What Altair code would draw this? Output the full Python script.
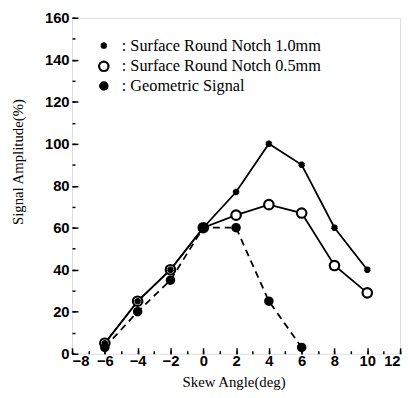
import altair as alt
import pandas as pd

# ---- data ----
series_names = ["Surface Round Notch 1.0mm", "Surface Round Notch 0.5mm", "Geometric Signal"]
angles_notch = [-6, -4, -2, 0, 2, 4, 6, 8, 10]
notch_10 = [5, 25, 40, 60, 77, 100, 90, 60, 40]
notch_05 = [5, 25, 40, 60, 66, 71, 67, 42, 29]
angles_geo = [-6, -4, -2, 0, 2, 4, 6]
geometric = [3, 20, 35, 60, 60, 25, 3]

x_ticks = [-8, -6, -4, -2, 0, 2, 4, 6, 8, 10, 12]
y_ticks = [0, 20, 40, 60, 80, 100, 120, 140, 160]
x_minor = list(range(-8, 13))
y_minor = list(range(0, 161, 10))

rows = []
for a, v in zip(angles_notch, notch_05):
    rows.append({"angle": a, "amp": v, "series": series_names[1]})
for a, v in zip(angles_notch, notch_10):
    rows.append({"angle": a, "amp": v, "series": series_names[0]})
for a, v in zip(angles_geo, geometric):
    rows.append({"angle": a, "amp": v, "series": series_names[2]})
df = pd.DataFrame(rows)

W, H = 333, 341
asterisk = "M0,-0.6L0,0.6M-0.52,-0.3L0.52,0.3M-0.52,0.3L0.52,-0.3"

xscale = alt.Scale(domain=[-8, 12], nice=False, zero=False)
yscale = alt.Scale(domain=[0, 160], nice=False)

base = alt.Chart(df)

x_label_axis = alt.Axis(values=x_ticks, ticks=False, domain=False, grid=False,
                        labelFont="Liberation Sans", labelFontWeight="bold",
                        labelFontSize=15, labelColor="black", labelPadding=0,
                        title="Skew Angle(deg)", titleFont="Liberation Serif",
                        titleFontWeight="normal", titleFontSize=15, titleColor="black",
                        titleX=164, titleY=28, titleBaseline="middle", titleAlign="center")
y_label_axis = alt.Axis(values=y_ticks, ticks=False, domain=False, grid=False,
                        labelFont="Liberation Sans", labelFontWeight="bold",
                        labelFontSize=15, labelColor="black", labelPadding=3,
                        title="Signal Amplitude(%)", titleFont="Liberation Serif",
                        titleFontWeight="normal", titleFontSize=15, titleColor="black",
                        titleX=-55, titleY=146, titleAngle=-90,
                        titleBaseline="middle", titleAlign="center")

solid_lines = base.transform_filter(
    alt.datum.series != series_names[2]
).mark_line(color="black", strokeWidth=1.8).encode(
    x=alt.X("angle:Q", scale=xscale, axis=x_label_axis),
    y=alt.Y("amp:Q", scale=yscale, axis=y_label_axis),
    detail="series:N",
)

dashed_line = base.transform_filter(
    alt.datum.series == series_names[2]
).mark_line(color="black", strokeWidth=1.8, strokeDash=[7, 5]).encode(
    x=alt.X("angle:Q", scale=xscale,
            axis=alt.Axis(orient="top", offset=-H, values=x_minor, labels=False, domain=False,
                          grid=False, title=None, tickColor="black", tickWidth=1.5, tickSize=3)),
    y=alt.Y("amp:Q", scale=yscale,
            axis=alt.Axis(orient="right", offset=-W, values=y_minor, labels=False, domain=False,
                          grid=False, title=None, tickColor="black", tickWidth=1.5, tickSize=3)),
)

leg = alt.Legend(title=None, labelExpr="': ' + datum.label", orient="none",
                 legendX=24, legendY=20, labelLimit=400,
                 labelFont="Liberation Serif", labelFontSize=16.5, labelColor="black",
                 labelOffset=10, rowPadding=2)

points = base.mark_point(filled=True, opacity=1).encode(
    x=alt.X("angle:Q", scale=xscale,
            axis=alt.Axis(orient="top", offset=-H, values=x_ticks, labels=False, domain=False,
                          grid=False, title=None, tickColor="black", tickWidth=1.5, tickSize=6)),
    y=alt.Y("amp:Q", scale=yscale,
            axis=alt.Axis(orient="right", offset=-W, values=y_ticks, labels=False, domain=False,
                          grid=False, title=None, tickColor="black", tickWidth=1.5, tickSize=6)),
    shape=alt.Shape("series:N", scale=alt.Scale(domain=series_names, range=[asterisk, "circle", "circle"]),
                    legend=leg),
    fill=alt.Fill("series:N", scale=alt.Scale(domain=series_names, range=["black", "white", "black"]),
                  legend=leg),
    stroke=alt.Stroke("series:N", scale=alt.Scale(domain=series_names, range=["black", "black", "black"]),
                      legend=leg),
    size=alt.Size("series:N", scale=alt.Scale(domain=series_names, range=[120, 65, 95]),
                  legend=leg),
    strokeWidth=alt.StrokeWidth("series:N", scale=alt.Scale(domain=series_names, range=[2.8, 1.6, 1.5]),
                                legend=leg),
)

chart = alt.layer(solid_lines, dashed_line, points).resolve_axis(
    x="independent", y="independent"
).properties(
    width=W, height=H,
    autosize=alt.AutoSizeParams(type="none"),
    padding={"left": 65, "top": 7, "right": 6, "bottom": 40},
).configure_view(stroke="black", strokeWidth=2).configure(background="white")

chart.save("out.html", embed_options={"renderer": "svg", "actions": False})
